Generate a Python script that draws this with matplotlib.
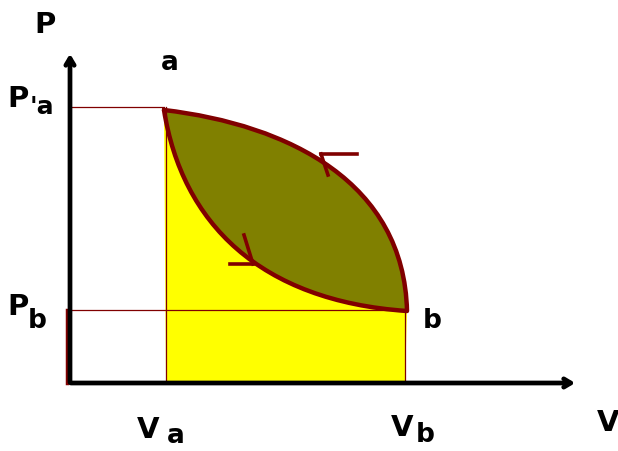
import matplotlib
matplotlib.use("Agg")
import matplotlib.pyplot as plt
from matplotlib.path import Path
from matplotlib.patches import PathPatch

# diagram units: V to the right, P upward, origin at the axes corner
point_a = (94, 273)
point_b = (337, 72)
Pa, Pb = 276, 73
Va, Vb = 96, 335

# each path of the cycle as a cubic curve: start, two control points, end
upper_ctrl = [point_a, (220, 258), (334, 200), point_b]   # a -> b, expansion
lower_ctrl = [point_b, (190, 82), (112, 160), point_a]    # b -> a, compression

axis_color = "black"
curve_color = "#800000"
font = dict(family="DejaVu Sans", weight="bold", color="black")

C4 = Path.CURVE4

fig = plt.figure(figsize=(6.18, 4.51), dpi=100)
ax = fig.add_axes([0, 0, 1, 1])
ax.set_xlim(-70, 548)
ax.set_ylim(-68, 383)
ax.axis("off")

# yellow area under the lower curve
yellow = Path(lower_ctrl[::-1] + [(Vb, 0), (Va, 0), point_a],
              [Path.MOVETO, C4, C4, C4, Path.LINETO, Path.LINETO, Path.CLOSEPOLY])
ax.add_patch(PathPatch(yellow, facecolor="yellow", edgecolor="none", zorder=1))

# olive area enclosed by the cycle
cycle = Path(upper_ctrl + lower_ctrl[1:],
             [Path.MOVETO, C4, C4, C4, C4, C4, C4])
ax.add_patch(PathPatch(cycle, facecolor="#808000", edgecolor="none", zorder=2))

# guide lines
ax.plot([0, point_a[0]], [Pa, Pa], color=curve_color, lw=0.9, zorder=3)
ax.plot([0, point_b[0]], [Pb, Pb], color=curve_color, lw=0.9, zorder=3)
ax.plot([Va, Va], [0, Pa], color=curve_color, lw=0.9, zorder=3)
ax.plot([Vb, Vb], [0, Pb], color=curve_color, lw=0.9, zorder=3)

# cycle outline
ax.add_patch(PathPatch(cycle, facecolor="none", edgecolor=curve_color, lw=3.2,
                       joinstyle="round", capstyle="round", zorder=4))

# direction marks on the curves
ax.plot([251, 287], [229, 229], color=curve_color, lw=2.6, zorder=5)
ax.plot([251, 258], [229, 208], color=curve_color, lw=2.6, zorder=5)
ax.plot([160, 183], [119, 119], color=curve_color, lw=2.6, zorder=5)
ax.plot([183, 174], [119, 148], color=curve_color, lw=2.6, zorder=5)

# axes with open arrow heads
ax.plot([-3, -3], [0, Pb], color=curve_color, lw=2.5, zorder=5)
ax.annotate("", xy=(0, 332), xytext=(0, -2), zorder=6,
            arrowprops=dict(arrowstyle="->,head_length=0.5,head_width=0.3", color=axis_color, lw=3.4))
ax.annotate("", xy=(508, 0), xytext=(-2, 0), zorder=6,
            arrowprops=dict(arrowstyle="->,head_length=0.5,head_width=0.3", color=axis_color, lw=3.4))

# labels
ax.text(-25, 358, "P", fontsize=21, ha="center", va="center", **font)
ax.text(100, 320, "a", fontsize=19, ha="center", va="center", **font)
ax.text(-52, 284, "P", fontsize=21, ha="center", va="center", **font)
ax.text(-28, 276, "'a", fontsize=18, ha="center", va="center", **font)
ax.text(-52, 76, "P", fontsize=21, ha="center", va="center", **font)
ax.text(-33, 62, "b", fontsize=19, ha="center", va="center", **font)
ax.text(362, 62, "b", fontsize=19, ha="center", va="center", **font)
ax.text(78, -47, "V", fontsize=21, ha="center", va="center", **font)
ax.text(106, -53, "a", fontsize=19, ha="center", va="center", **font)
ax.text(332, -45, "V", fontsize=21, ha="center", va="center", **font)
ax.text(355, -52, "b", fontsize=19, ha="center", va="center", **font)
ax.text(538, -40, "V", fontsize=21, ha="center", va="center", **font)

fig.savefig("out.png", dpi=100)
